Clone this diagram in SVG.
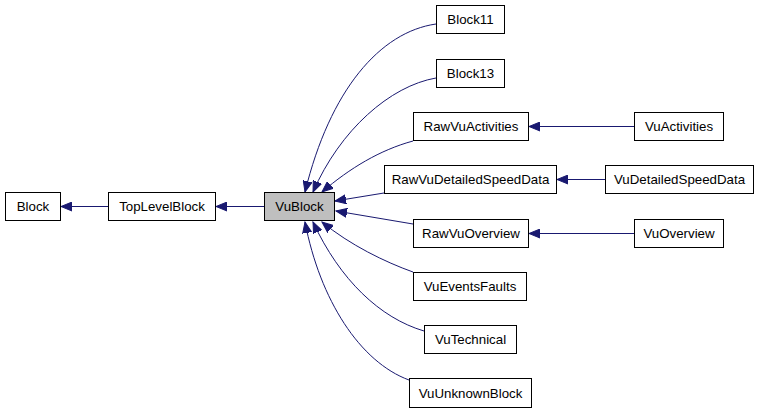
<svg xmlns="http://www.w3.org/2000/svg" width="760" height="413" viewBox="0 0 760 413">
<style>
.n rect{fill:#ffffff;stroke:#000000;stroke-width:1}
.n text{font-family:"Liberation Sans",Arial,sans-serif;font-size:13.3px;text-anchor:middle;fill:#000000}
#edges path{fill:none;stroke:#191970;stroke-width:1;marker-end:url(#arr)}
</style>
<defs>
<marker id="arr" markerUnits="userSpaceOnUse" markerWidth="12" markerHeight="10" refX="11" refY="5" orient="auto">
<polygon points="0,0.5 11,5 0,9.5" fill="#191970" stroke="#191970" stroke-width="1"/>
</marker>
</defs>
<rect width="760" height="413" fill="#ffffff"/>
<g id="edges">
<path d="M108,206.5 L61,206.5"/>
<path d="M264,206.5 L216,206.5"/>
<path d="M436,24 C380,32 330,90 305,192"/>
<path d="M436,78 C390,86 340,130 313,192"/>
<path d="M413,141 C380,150 350,168 322,192"/>
<path d="M384,193 L335,201"/>
<path d="M413,224 L336,211"/>
<path d="M413,272 C385,262 350,245 322,222"/>
<path d="M424,331 C380,318 340,280 313,222"/>
<path d="M409,380 C360,362 320,300 305,222"/>
<path d="M634,126.5 L529,126.5"/>
<path d="M605,179.5 L557,179.5"/>
<path d="M634,233.5 L529,233.5"/>
</g>
<g id="Block" class="n"><rect x="5.5" y="192.5" width="55" height="28"/><text x="33" y="211">Block</text></g>
<g id="TopLevelBlock" class="n"><rect x="108.5" y="192.5" width="107" height="28"/><text x="162" y="211">TopLevelBlock</text></g>
<g id="VuBlock" class="n"><rect x="264.5" y="192.5" width="70" height="28" style="fill:#bfbfbf"/><text x="299.5" y="211">VuBlock</text></g>
<g id="Block11" class="n"><rect x="436.5" y="5.5" width="68" height="28"/><text x="470.5" y="24">Block11</text></g>
<g id="Block13" class="n"><rect x="436.5" y="59.5" width="68" height="28"/><text x="470.5" y="78">Block13</text></g>
<g id="RawVuActivities" class="n"><rect x="413.5" y="112.5" width="115" height="28"/><text x="471" y="131">RawVuActivities</text></g>
<g id="RawVuDetailedSpeedData" class="n"><rect x="384.5" y="165.5" width="172" height="28"/><text x="470.5" y="184">RawVuDetailedSpeedData</text></g>
<g id="RawVuOverview" class="n"><rect x="413.5" y="219.5" width="115" height="28"/><text x="471" y="238">RawVuOverview</text></g>
<g id="VuEventsFaults" class="n"><rect x="413.5" y="272.5" width="113" height="28"/><text x="470" y="291">VuEventsFaults</text></g>
<g id="VuTechnical" class="n"><rect x="424.5" y="325.5" width="92" height="28"/><text x="470.5" y="344">VuTechnical</text></g>
<g id="VuUnknownBlock" class="n"><rect x="409.5" y="378.5" width="122" height="29"/><text x="470.5" y="398">VuUnknownBlock</text></g>
<g id="VuActivities" class="n"><rect x="634.5" y="112.5" width="89" height="28"/><text x="679" y="131">VuActivities</text></g>
<g id="VuDetailedSpeedData" class="n"><rect x="605.5" y="165.5" width="148" height="28"/><text x="679.5" y="184">VuDetailedSpeedData</text></g>
<g id="VuOverview" class="n"><rect x="634.5" y="219.5" width="89" height="28"/><text x="679" y="238">VuOverview</text></g>
</svg>
